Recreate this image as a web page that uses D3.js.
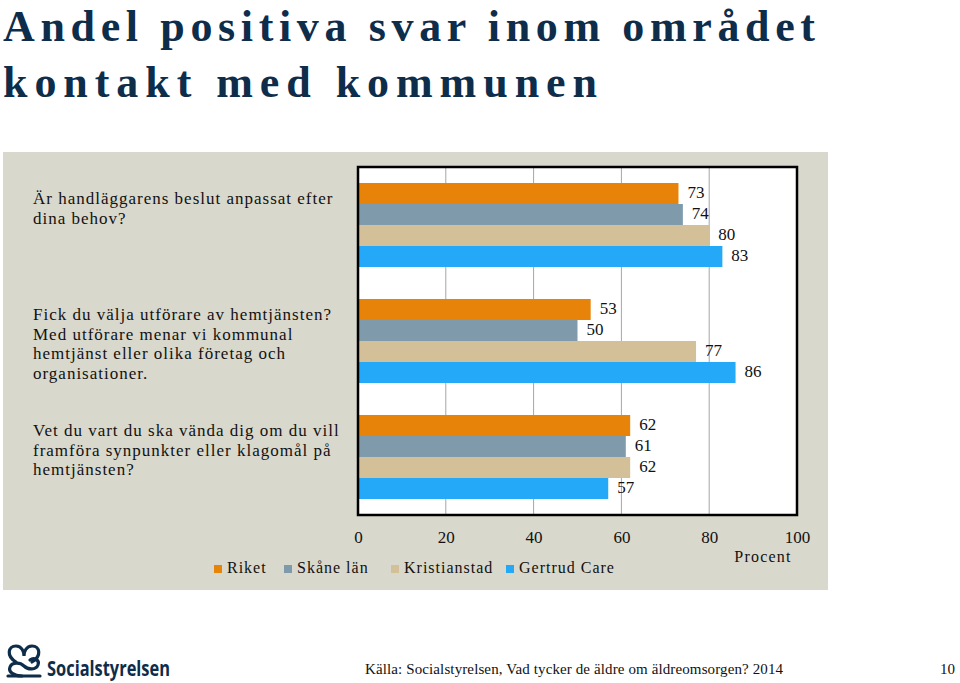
<!DOCTYPE html>
<html><head><meta charset="utf-8">
<script src="https://cdn.jsdelivr.net/npm/d3@7/dist/d3.min.js"></script>
<style>body{margin:0;background:#fff}svg{display:block}</style>
</head><body>
<script>
const categories = [
  ["Är handläggarens beslut anpassat efter", "dina behov?"],
  ["Fick du välja utförare av hemtjänsten?", "Med utförare menar vi kommunal", "hemtjänst eller olika företag och", "organisationer."],
  ["Vet du vart du ska vända dig om du vill", "framföra synpunkter eller klagomål på", "hemtjänsten?"]
];
const seriesNames = ["Riket", "Skåne län", "Kristianstad", "Gertrud Care"];
const riket = [73, 53, 62];
const skane = [74, 50, 61];
const kristianstad = [80, 77, 62];
const gertrud = [83, 86, 57];
const xTicks = [0, 20, 40, 60, 80, 100];
const colors = ["#e8830a", "#7e9aab", "#d3c098", "#24a9f9"];

const seriesValues = [riket, skane, kristianstad, gertrud];
const W = 960, H = 683;
const svg = d3.select("body").append("svg").attr("width", W).attr("height", H);
const serif = "'Liberation Serif', 'DejaVu Serif', serif";

// Title
const title = svg.append("g").attr("fill", "#0e2d4a").attr("font-family", serif).attr("font-weight", "bold").attr("font-size", 44);
title.append("text").attr("x", 3).attr("y", 41).attr("textLength", 812).attr("lengthAdjust", "spacing").text("Andel positiva svar inom området");
title.append("text").attr("x", 3).attr("y", 97).attr("textLength", 594).attr("lengthAdjust", "spacing").text("kontakt med kommunen");

// Panel
svg.append("rect").attr("x", 3).attr("y", 152).attr("width", 825).attr("height", 438).attr("fill", "#d9d8cc");

const x = d3.scaleLinear().domain([0, 100]).range([358, 797]);
const y0 = d3.scaleBand().domain(d3.range(categories.length)).range([167, 515]).paddingInner(0.2759).paddingOuter(0.1379);
const y1 = d3.scaleBand().domain(d3.range(seriesNames.length)).range([0, y0.bandwidth()]);

// plot bg
svg.append("rect").attr("x", x(0)).attr("y", 167).attr("width", x(100) - x(0)).attr("height", 515 - 167).attr("fill", "#fff");

// gridlines
svg.append("g").selectAll("line").data(xTicks.slice(1, -1)).join("line")
  .attr("x1", d => x(d)).attr("x2", d => x(d)).attr("y1", 167).attr("y2", 515)
  .attr("stroke", "#a6a6a6").attr("stroke-width", 1);

// bars
const groups = svg.append("g").selectAll("g").data(categories.map((c, i) => i)).join("g")
  .attr("transform", i => `translate(0,${y0(i)})`);
groups.selectAll("rect").data(i => seriesValues.map((s, k) => ({k, v: s[i]}))).join("rect")
  .attr("x", x(0)).attr("y", d => y1(d.k)).attr("width", d => x(d.v) - x(0)).attr("height", y1.bandwidth())
  .attr("fill", d => colors[d.k]);
groups.selectAll("text").data(i => seriesValues.map((s, k) => ({k, v: s[i]}))).join("text")
  .attr("x", d => x(d.v) + 9).attr("y", d => y1(d.k) + y1.bandwidth() / 2 + 1)
  .attr("dominant-baseline", "middle").attr("font-family", serif).attr("font-size", 17).attr("fill", "#111")
  .text(d => d.v);

// frame
svg.append("rect").attr("x", x(0)).attr("y", 167).attr("width", x(100) - x(0)).attr("height", 515 - 167)
  .attr("fill", "none").attr("stroke", "#000").attr("stroke-width", 2.5);

// category labels
const labelG = svg.append("g").attr("font-family", serif).attr("font-size", 17).attr("fill", "#111").attr("letter-spacing", 1);
categories.forEach((lines, i) => {
  lines.forEach((ln, j) => {
    labelG.append("text").attr("x", 33).attr("y", y0(i) + 17 + j * 19.7)
      .attr("dominant-baseline", "middle").text(ln);
  });
});

// x axis tick labels
const axis = d3.axisBottom(x).tickValues(xTicks).tickSize(0).tickPadding(0);
const ag = svg.append("g").attr("transform", "translate(0,530)").call(axis);
ag.select(".domain").remove();
ag.selectAll("text").attr("font-family", serif).attr("font-size", 17).attr("fill", "#111").attr("dy", "0.75em");

svg.append("text").attr("x", 763).attr("y", 558).attr("text-anchor", "middle").attr("dominant-baseline", "middle")
  .attr("font-family", serif).attr("font-size", 16).attr("fill", "#111").attr("letter-spacing", 1.2).text("Procent");

// legend
const legX = [214, 284, 391, 506];
const leg = svg.append("g").selectAll("g").data(seriesNames).join("g")
  .attr("transform", (d, i) => `translate(${legX[i]},569)`);
leg.append("rect").attr("x", 0).attr("y", -4).attr("width", 8).attr("height", 8).attr("fill", (d, i) => colors[i]);
leg.append("text").attr("x", 13).attr("y", 0).attr("dominant-baseline", "middle").attr("letter-spacing", 1)
  .attr("font-family", serif).attr("font-size", 16).attr("fill", "#111").text(d => d);

// footer
svg.append("text").attr("x", 365).attr("y", 671).attr("dominant-baseline", "middle")
  .attr("font-family", serif).attr("font-size", 15).attr("fill", "#111").attr("textLength", 418).attr("lengthAdjust", "spacing")
  .text("Källa: Socialstyrelsen, Vad tycker de äldre om äldreomsorgen? 2014");
svg.append("text").attr("x", 955).attr("y", 671).attr("text-anchor", "end").attr("dominant-baseline", "middle")
  .attr("font-family", serif).attr("font-size", 15).attr("fill", "#111").text("10");

// logo
const logo = svg.append("g").attr("fill", "none").attr("stroke", "#0e2d4a").attr("stroke-width", 3.2).attr("stroke-linecap", "round");
logo.append("path").attr("d", "M16,662 C6,656 8,646 16,646 C22,646 24,652 24,656 C24,652 26,646 32,646 C40,646 42,656 32,662");
logo.append("path").attr("d", "M22,676 C14,676 8,672 10,667 C12,662 20,662 24,666 C28,670 36,670 38,665 C40,660 34,657 30,660");
logo.append("path").attr("d", "M8,676 L40,676");
svg.append("text").attr("x", 47).attr("y", 676).attr("font-family", "'Open Sans', 'DejaVu Sans', sans-serif")
  .attr("font-weight", "bold").attr("font-size", 21).attr("fill", "#0e2d4a").attr("textLength", 123).attr("lengthAdjust", "spacingAndGlyphs")
  .text("Socialstyrelsen");
</script>
</body></html>
